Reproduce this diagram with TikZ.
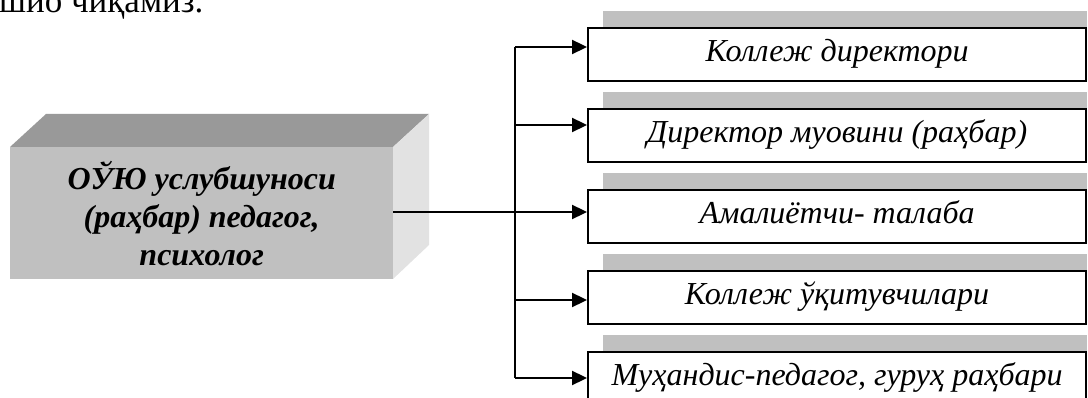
\documentclass[tikz,border=0pt]{standalone}
\usepackage{fontspec}
\setmainfont{Liberation Serif}
\usetikzlibrary{arrows.meta,calc}
\definecolor{frontgray}{RGB}{192,192,192}
\definecolor{topgray}{RGB}{153,153,153}
\definecolor{sidegray}{RGB}{226,226,226}
\definecolor{bargray}{RGB}{192,192,192}
\tikzset{
  rbox/.style={draw=black, line width=2.2pt, fill=white, inner sep=0pt,
    minimum width=498pt, text height=33pt, text depth=20pt,
    anchor=north west, font=\fontsize{32}{38}\selectfont\itshape},
  conn/.style={line width=2.3pt},
  arr/.style={conn, -{Triangle[length=15pt, width=14pt]}},
}
\begin{document}
\begin{tikzpicture}[x=1pt, y=-1pt]
\useasboundingbox (0,0) rectangle (1088,398);
% top text fragment
\node[anchor=base west, inner sep=0pt, font=\fontsize{35}{40}\selectfont] (toptext) at (-1,13) {шио чиқамиз.};
% 3D block
\fill[topgray] (10,147) -- (46,114) -- (429,114) -- (393,147) -- cycle;
\fill[sidegray] (393,147) -- (429,114) -- (429,245) -- (393,279) -- cycle;
\node[fill=frontgray, minimum width=383pt, minimum height=132pt, inner sep=0pt,
      anchor=north west, align=center,
      font=\fontsize{32}{38}\selectfont\bfseries\itshape] (src) at (10,147)
      {ОЎЮ услубшуноси\\(раҳбар) педагог,\\психолог};
% right boxes with grey bars
\foreach \t in {27,108,189,270,351}{
  \fill[bargray] (603,\t-16) rectangle (1087,\t);
}
\node[rbox] (b1) at (587,27) {Коллеж директори};
\node[rbox] (b2) at (587,108) {Директор муовини (раҳбар)};
\node[rbox] (b3) at (587,189) {Амалиётчи- талаба};
\node[rbox] (b4) at (587,270) {Коллеж ўқитувчилари};
\node[rbox] (b5) at (587,351) {Муҳандис-педагог, гуруҳ раҳбари};
% bus coordinates
\coordinate (k1) at (515,47);
\coordinate (k2) at (515,125);
\coordinate (k3) at (515,212);
\coordinate (k4) at (515,300);
\coordinate (k5) at (515,378);
\draw[conn] (k1) -- (k5);
\draw[arr] (k1) -- (k1 -| b1.west);
\draw[arr] (k2) -- (k2 -| b2.west);
\draw[arr] (src.east |- k3) -- (k3 -| b3.west);
\draw[arr] (k4) -- (k4 -| b4.west);
\draw[arr] (k5) -- (k5 -| b5.west);
\end{tikzpicture}
\end{document}
